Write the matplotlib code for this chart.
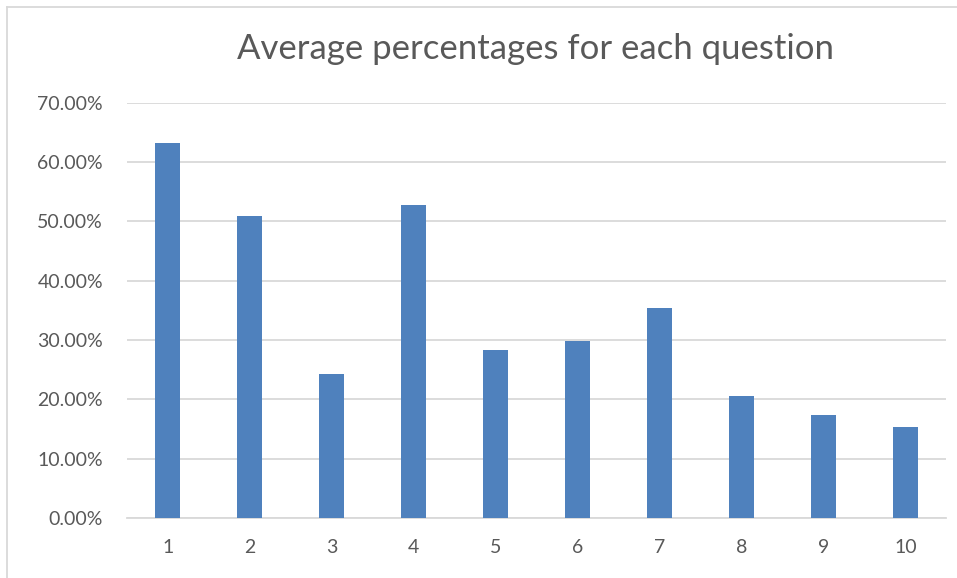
import matplotlib
matplotlib.use("Agg")
import matplotlib.pyplot as plt
from matplotlib.lines import Line2D
from matplotlib.ticker import FuncFormatter

# average percentage per question
questions = ["1", "2", "3", "4", "5", "6", "7", "8", "9", "10"]
averages = [63.2, 50.9, 24.2, 52.8, 28.3, 29.9, 35.4, 20.6, 17.4, 15.3]
y_ticks = [0, 10, 20, 30, 40, 50, 60, 70]

bar_color = "#4F81BD"
grid_color = "#D9D9D9"
text_color = "#595959"

plt.rcParams["font.family"] = ["Lato", "DejaVu Sans"]

fig = plt.figure(figsize=(9.57, 5.78), dpi=100)
ax = fig.add_axes([126.7 / 957, 1 - 518 / 578, (946.3 - 126.7) / 957, (518 - 102.7) / 578])

x = list(range(len(questions)))
ax.bar(x, averages, width=0.31, color=bar_color, zorder=3)

ax.set_xlim(-0.5, len(questions) - 0.5)
ax.set_ylim(0, 70)
ax.set_yticks(y_ticks)
ax.yaxis.set_major_formatter(FuncFormatter(lambda v, p: f"{v:.2f}%"))
ax.set_xticks(x)
ax.set_xticklabels(questions)

ax.grid(axis="y", color=grid_color, linewidth=1.3, zorder=0)
for s in ["top", "right", "left"]:
    ax.spines[s].set_visible(False)
ax.spines["bottom"].set_color(grid_color)
ax.spines["bottom"].set_linewidth(1.3)
ax.tick_params(axis="both", length=0, labelsize=14, colors=text_color)
ax.tick_params(axis="y", pad=17)
ax.tick_params(axis="x", pad=15)

fig.text(535.5 / 957, 1 - 59.3 / 578, "Average percentages for each question",
         ha="center", va="baseline", fontsize=25, color=text_color)

# chart frame (only left and top edges visible in the crop)
fig.add_artist(Line2D([7.5 / 957, 7.5 / 957], [0, 1 - 6.5 / 578], color=grid_color, linewidth=1.3))
fig.add_artist(Line2D([7.5 / 957, 1], [1 - 6.5 / 578, 1 - 6.5 / 578], color=grid_color, linewidth=1.3))

fig.savefig("out.png", dpi=100)
